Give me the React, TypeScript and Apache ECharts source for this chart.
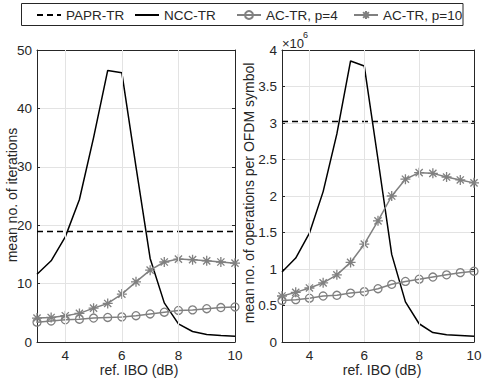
import React, { useEffect, useRef } from 'react';
import * as echarts from 'echarts';

// x values: reference IBO (dB)
const ibo = [3, 3.5, 4, 4.5, 5, 5.5, 6, 6.5, 7, 7.5, 8, 8.5, 9, 9.5, 10];
const xTicks = [4, 6, 8, 10];
const xGridLines = [4, 6, 8];

// left: mean number of iterations
const iterPaprTr = 18.9;
const iterNccTr = [11.6, 13.9, 18.0, 24.4, 35.0, 46.5, 46.1, 30.0, 14.3, 6.7, 3.1, 1.8, 1.3, 1.1, 1.0];
const iterAcTrP4 = [3.4, 3.6, 3.8, 3.9, 4.1, 4.2, 4.3, 4.5, 4.8, 5.1, 5.4, 5.5, 5.7, 5.9, 6.0];
const iterAcTrP10 = [4.1, 4.2, 4.5, 4.9, 5.8, 6.6, 8.2, 10.3, 12.3, 13.7, 14.2, 14.1, 13.9, 13.7, 13.5];

// right: mean number of operations per OFDM symbol (x 10^6)
const opsPaprTr = 3.02;
const opsNccTr = [0.96, 1.15, 1.49, 2.06, 2.85, 3.85, 3.78, 2.5, 1.2, 0.55, 0.25, 0.13, 0.1, 0.09, 0.08];
const opsAcTrP4 = [0.57, 0.58, 0.6, 0.63, 0.64, 0.67, 0.69, 0.73, 0.79, 0.83, 0.86, 0.89, 0.92, 0.95, 0.97];
const opsAcTrP10 = [0.63, 0.68, 0.74, 0.81, 0.92, 1.09, 1.34, 1.66, 2.0, 2.23, 2.32, 2.31, 2.26, 2.22, 2.18];

const names = ['PAPR-TR', 'NCC-TR', 'AC-TR, p=4', 'AC-TR, p=10'];

const FONT = 'Liberation Sans, Arial, Helvetica, sans-serif';
const DARK = '#262626';
const GRAY = '#808080';
const GRID = '#e3e3e3';
const STAR = 'path://M0,-5L0,5M-5,0L5,0M-3.6,-3.6L3.6,3.6M-3.6,3.6L3.6,-3.6';

function pairs(ys: number[]) {
  return ibo.map((x, i) => [x, ys[i]]);
}

function axesFor(gridIndex: number, yMin: number, yMax: number, yInt: number, fmt?: (v: number) => string) {
  const lineCommon = { show: true, onZero: false, lineStyle: { color: DARK, width: 1 } };
  const tickCommon = { show: true, inside: true, length: 3, lineStyle: { color: DARK, width: 1 } };
  const x = [
    {
      type: 'value', gridIndex, min: 3, max: 10, position: 'bottom',
      axisLine: lineCommon,
      axisTick: { ...tickCommon, customValues: xTicks },
      axisLabel: { customValues: xTicks, color: DARK, fontSize: 13.5, fontFamily: FONT, margin: 6 },
      splitLine: { show: false },
    },
    {
      type: 'value', gridIndex, min: 3, max: 10, position: 'top',
      axisLine: lineCommon,
      axisTick: { ...tickCommon, customValues: xTicks },
      axisLabel: { show: false },
      splitLine: { show: false },
    },
  ];
  const y = [
    {
      type: 'value', gridIndex, min: yMin, max: yMax, interval: yInt, position: 'left',
      axisLine: lineCommon,
      axisTick: tickCommon,
      axisLabel: { color: DARK, fontSize: 13.5, fontFamily: FONT, margin: 5, formatter: fmt },
      splitLine: { show: true, lineStyle: { color: GRID, width: 1 } },
    },
    {
      type: 'value', gridIndex, min: yMin, max: yMax, interval: yInt, position: 'right',
      axisLine: lineCommon,
      axisTick: tickCommon,
      axisLabel: { show: false },
      splitLine: { show: false },
    },
  ];
  return { x, y };
}

function seriesFor(axisIdx: number, papr: number, ncc: number[], p4: number[], p10: number[]) {
  const base = { type: 'line', xAxisIndex: axisIdx, yAxisIndex: axisIdx, clip: true, silent: true };
  return [
    {
      ...base, name: names[0], data: [[3, papr], [10, papr]], symbol: 'none',
      color: '#000', lineStyle: { color: '#000', width: 1.5, type: [6, 4] },
      markLine: {
        silent: true, symbol: 'none', label: { show: false },
        lineStyle: { color: GRID, width: 1, type: 'solid' },
        data: xGridLines.map((v) => ({ xAxis: v })),
      },
    },
    {
      ...base, name: names[1], data: pairs(ncc), symbol: 'none',
      color: '#000', lineStyle: { color: '#000', width: 1.5 },
    },
    {
      ...base, name: names[2], data: pairs(p4), symbol: 'circle', symbolSize: 8,
      color: GRAY, lineStyle: { color: GRAY, width: 1.5 },
      itemStyle: { color: 'rgba(255,255,255,0)', borderColor: GRAY, borderWidth: 1.3 },
    },
    {
      ...base, name: names[3], data: pairs(p10), symbol: STAR, symbolSize: 10,
      color: GRAY, lineStyle: { color: GRAY, width: 1.5 },
      itemStyle: { color: GRAY, borderColor: GRAY, borderWidth: 1.3 },
    },
  ];
}

export default function App() {
  const ref = useRef<HTMLDivElement>(null);
  useEffect(() => {
    document.body.style.margin = '0';
    if (!ref.current) return;
    const chart = echarts.init(ref.current, undefined, { renderer: 'svg' });
    const a0 = axesFor(0, 0, 50, 10);
    const a1 = axesFor(1, 0, 4, 0.5, (v: number) => String(v));
    const legendLefts = [36, 134, 236, 353];
    const option: any = {
      animation: false,
      backgroundColor: '#fff',
      textStyle: { fontFamily: FONT },
      grid: [
        { left: 37, top: 50, width: 198, height: 292, containLabel: false },
        { left: 282, top: 50, width: 192, height: 292, containLabel: false },
      ],
      xAxis: [...a0.x, ...a1.x],
      yAxis: [...a0.y, ...a1.y],
      legend: names.map((n, i) => {
        const l: any = {
          data: [n], left: legendLefts[i], top: 8, itemWidth: 24, itemHeight: 10,
          padding: 0, selectedMode: false,
          textStyle: { color: DARK, fontSize: 13.5, fontFamily: FONT },
        };
        if (i < 2) l.itemStyle = { opacity: 0 };
        return l;
      }),
      series: [
        ...seriesFor(0, iterPaprTr, iterNccTr, iterAcTrP4, iterAcTrP10),
        ...seriesFor(2, opsPaprTr, opsNccTr, opsAcTrP4, opsAcTrP10),
      ],
      graphic: [
        {
          type: 'rect', z: -1, shape: { x: 21.5, y: 3.5, width: 441.5, height: 22 },
          style: { fill: '#fff', stroke: DARK, lineWidth: 1 },
        },
        {
          type: 'text', x: 12, y: 195, rotation: Math.PI / 2,
          style: { text: 'mean no. of iterations', fill: DARK, fontSize: 14, fontFamily: FONT, align: 'center', verticalAlign: 'middle' },
        },
        {
          type: 'text', x: 249, y: 193, rotation: Math.PI / 2,
          style: { text: 'mean no. of operations per OFDM symbol', fill: DARK, fontSize: 14, fontFamily: FONT, align: 'center', verticalAlign: 'middle' },
        },
        {
          type: 'text', x: 139, y: 370,
          style: { text: 'ref. IBO (dB)', fill: DARK, fontSize: 14, fontFamily: FONT, align: 'center', verticalAlign: 'middle' },
        },
        {
          type: 'text', x: 382, y: 370,
          style: { text: 'ref. IBO (dB)', fill: DARK, fontSize: 14, fontFamily: FONT, align: 'center', verticalAlign: 'middle' },
        },
        {
          type: 'text', x: 282, y: 43,
          style: { text: '×10', fill: DARK, fontSize: 13, fontFamily: FONT, align: 'left', verticalAlign: 'middle' },
        },
        {
          type: 'text', x: 303, y: 35,
          style: { text: '6', fill: DARK, fontSize: 9, fontFamily: FONT, align: 'left', verticalAlign: 'middle' },
        },
      ],
    };
    chart.setOption(option);
    return () => chart.dispose();
  }, []);
  return <div ref={ref} style={{ width: 485, height: 378 }} />;
}
